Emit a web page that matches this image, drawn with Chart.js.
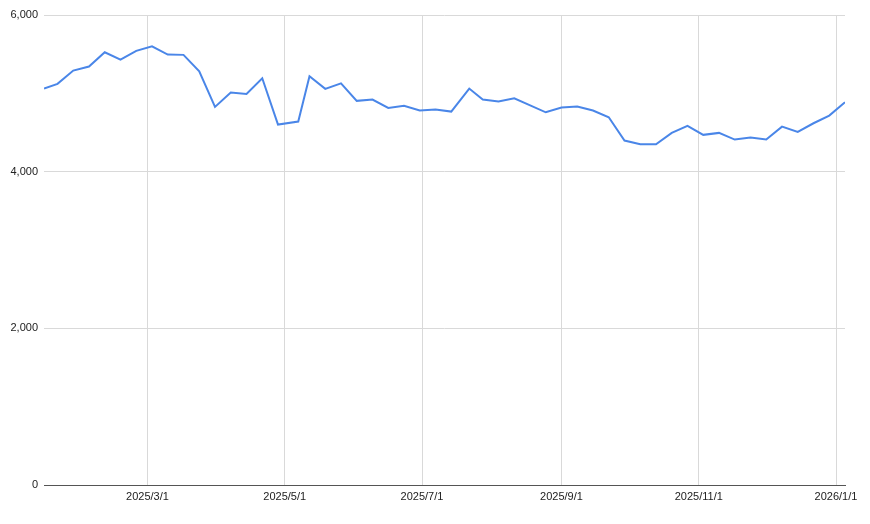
<!DOCTYPE html>
<html>
<head>
<meta charset="utf-8">
<script src="https://cdn.jsdelivr.net/npm/chart.js@4"></script>
<style>
  html, body { margin: 0; padding: 0; background: #fff; }
  #wrap { width: 870px; height: 524px; }
</style>
</head>
<body>
<div id="wrap"><canvas id="myChart" width="870" height="524"></canvas></div>
<script>
// weekly readings
const dates = [
  '2025/1/14', '2025/1/20', '2025/1/27', '2025/2/3', '2025/2/10', '2025/2/17', '2025/2/24',
  '2025/3/3', '2025/3/10', '2025/3/17', '2025/3/24', '2025/3/31', '2025/4/7', '2025/4/14',
  '2025/4/21', '2025/4/28', '2025/5/7', '2025/5/12', '2025/5/19', '2025/5/26', '2025/6/2',
  '2025/6/9', '2025/6/16', '2025/6/23', '2025/6/30', '2025/7/7', '2025/7/14', '2025/7/22',
  '2025/7/28', '2025/8/4', '2025/8/11', '2025/8/25', '2025/9/1', '2025/9/8', '2025/9/15',
  '2025/9/22', '2025/9/29', '2025/10/6', '2025/10/13', '2025/10/20', '2025/10/27', '2025/11/3',
  '2025/11/10', '2025/11/17', '2025/11/24', '2025/12/1', '2025/12/8', '2025/12/15', '2025/12/22',
  '2025/12/29', '2026/1/5'
];
const values = [
  5061, 5121, 5291, 5342, 5524, 5431, 5542,
  5601, 5495, 5491, 5282, 4827, 5010, 4993,
  5192, 4601, 4639, 5218, 5057, 5128, 4904,
  4920, 4814, 4840, 4780, 4793, 4767, 5061,
  4920, 4895, 4937, 4758, 4818, 4831, 4780,
  4694, 4397, 4350, 4350, 4495, 4584, 4470,
  4495, 4410, 4435, 4410, 4575, 4508, 4618,
  4716, 4886
];
const xTickDates = ['2025/3/1', '2025/5/1', '2025/7/1', '2025/9/1', '2025/11/1', '2026/1/1'];
const yTicks = [0, 2000, 4000, 6000];

const DAY = 86400000;
function toDay(s) {
  const p = s.split('/').map(Number);
  return Date.UTC(p[0], p[1] - 1, p[2]) / DAY;
}
function fmtDay(v) {
  const d = new Date(v * DAY);
  return d.getUTCFullYear() + '/' + (d.getUTCMonth() + 1) + '/' + d.getUTCDate();
}

const points = dates.map((d, i) => ({ x: toDay(d), y: values[i] }));
const tickFont = { family: "'Liberation Sans', Arial, sans-serif", size: 11 };

const ctx = document.getElementById('myChart');
new Chart(ctx, {
  type: 'line',
  data: {
    datasets: [{
      data: points,
      borderColor: '#4a86e8',
      borderWidth: 2,
      pointRadius: 0,
      tension: 0,
      fill: false
    }]
  },
  options: {
    responsive: false,
    animation: false,
    layout: { padding: { top: 15, right: 25, left: 0, bottom: 0 } },
    plugins: { legend: { display: false }, tooltip: { enabled: false } },
    scales: {
      x: {
        type: 'linear',
        min: toDay(dates[0]),
        max: toDay(dates[dates.length - 1]),
        afterBuildTicks: function (scale) {
          scale.ticks = xTickDates.map(d => ({ value: toDay(d) }));
        },
        afterFit: function (scale) { scale.height = 39; },
        grid: { color: '#d9d9d9', drawTicks: false },
        border: { display: true, color: '#555555' },
        ticks: {
          autoSkip: false,
          maxRotation: 0,
          padding: 5,
          color: '#222222',
          font: tickFont,
          callback: v => fmtDay(v)
        }
      },
      y: {
        min: 0,
        max: 6000,
        afterBuildTicks: function (scale) {
          scale.ticks = yTicks.map(v => ({ value: v }));
        },
        afterFit: function (scale) { scale.width = 44; },
        grid: {
          drawTicks: false,
          color: c => (c.tick && c.tick.value === 0) ? '#555555' : '#d9d9d9'
        },
        border: { display: false },
        ticks: {
          padding: 6,
          color: '#222222',
          font: tickFont,
          callback: v => v.toLocaleString('en-US')
        }
      }
    }
  }
});
</script>
</body>
</html>
